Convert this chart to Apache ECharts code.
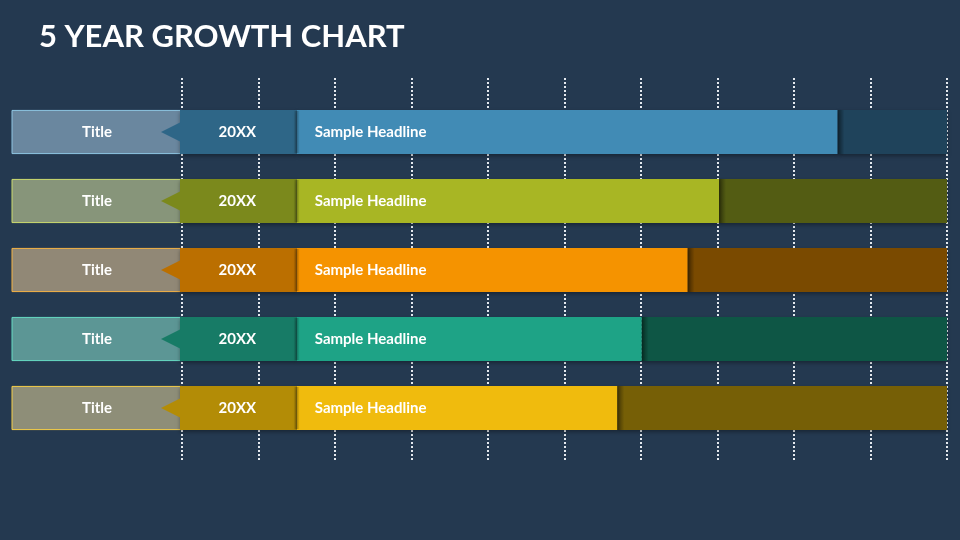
<!DOCTYPE html>
<html>
<head>
<meta charset="utf-8">
<title>5 Year Growth Chart</title>
<script src="https://cdn.jsdelivr.net/npm/echarts@6.0.0/dist/echarts.min.js"></script>
<style>
html, body { margin: 0; padding: 0; background: #243950; }
#main { width: 960px; height: 540px; }
</style>
</head>
<body>
<div id="main"></div>
<script>
// data
var rowTitles = ['Title', 'Title', 'Title', 'Title', 'Title'];
var years = ['20XX', '20XX', '20XX', '20XX', '20XX'];
var headlines = ['Sample Headline', 'Sample Headline', 'Sample Headline', 'Sample Headline', 'Sample Headline'];
var yearEnd = [15, 15, 15, 15, 15];     // year block runs 0 -> 15
var growth = [85.7, 70.2, 66.1, 60.1, 56.9];   // bright bar ends here (scale 0-100)

// colours per row: title box, its border, year block, bright bar, remainder
var palette = [
    { title: '#6a879f', edge: '#8fc6e3', year: '#2e6687', main: '#418bb5', rest: '#1f435b' },
    { title: '#87957a', edge: '#cddc6e', year: '#7b891c', main: '#a8b624', rest: '#535c13' },
    { title: '#918876', edge: '#f6b445', year: '#bb6f00', main: '#f59300', rest: '#7a4a00' },
    { title: '#5c9695', edge: '#66dcc4', year: '#177b66', main: '#1ea386', rest: '#0e5645' },
    { title: '#8e8e78', edge: '#f6cf48', year: '#b38c06', main: '#f0bb0d', rest: '#765f06' }
];

var rows = growth.map(function (v, i) { return [i, yearEnd[i], v]; });
var labelFont = 'bold 15px Lato';

function renderRow(params, api) {
    var i = params.dataIndex;
    var c = palette[i];
    var cy = api.coord([0, api.value(0)])[1];
    var h = api.size([0, 1])[1] * 0.64;
    var top = cy - h / 2;
    var x0 = api.coord([0, i])[0];
    var xy = api.coord([api.value(1), i])[0];
    var xv = api.coord([api.value(2), i])[0];
    var xm = api.coord([100, i])[0];
    var barShadow = { shadowBlur: 4, shadowOffsetY: 2, shadowColor: 'rgba(0,0,0,0.35)' };

    return {
        type: 'group',
        children: [
            { type: 'rect', shape: { x: x0 - 170, y: top + 0.5, width: 170, height: h - 1 },
              style: { fill: c.title, stroke: c.edge, lineWidth: 1 } },
            { type: 'rect', shape: { x: x0 - 2, y: top, width: xy - x0 + 2, height: h },
              style: Object.assign({ fill: c.year }, barShadow) },
            { type: 'polygon', shape: { points: [[x0 - 21, cy], [x0 - 1, cy - 10], [x0 - 1, cy + 10]] },
              style: { fill: c.year } },
            { type: 'rect', shape: { x: xv, y: top, width: xm - xv, height: h },
              style: Object.assign({ fill: c.rest }, barShadow) },
            { type: 'rect', shape: { x: xy, y: top, width: xv - xy, height: h },
              style: Object.assign({ fill: c.main }, barShadow) },
            { type: 'rect', shape: { x: xy - 3, y: top + 1, width: 6, height: h - 2 },
              style: { fill: new echarts.graphic.LinearGradient(0, 0, 1, 0, [
                  { offset: 0, color: 'rgba(0,0,0,0)' },
                  { offset: 0.5, color: 'rgba(0,0,0,0.3)' },
                  { offset: 1, color: 'rgba(0,0,0,0)' }]) } },
            { type: 'rect', shape: { x: xv, y: top, width: 7, height: h },
              style: { fill: new echarts.graphic.LinearGradient(0, 0, 1, 0, [
                  { offset: 0, color: 'rgba(0,0,0,0.45)' },
                  { offset: 1, color: 'rgba(0,0,0,0)' }]) } },
            { type: 'text', style: { x: x0 - 85, y: cy, text: rowTitles[i], align: 'center',
              verticalAlign: 'middle', fill: '#fff', font: labelFont } },
            { type: 'text', style: { x: (x0 + xy) / 2 - 2, y: cy, text: years[i], align: 'center',
              verticalAlign: 'middle', fill: '#fff', font: labelFont } },
            { type: 'text', style: { x: xy + 18, y: cy, text: headlines[i], align: 'left',
              verticalAlign: 'middle', fill: '#fff', font: labelFont } }
        ]
    };
}

var myChart = echarts.init(document.getElementById('main'));
var option = {
    backgroundColor: '#243950',
    animation: false,
    title: {
        text: '5 YEAR GROWTH CHART',
        left: 34,
        top: 16,
        textStyle: { color: '#ffffff', fontSize: 31, fontWeight: 'bold', fontFamily: 'Lato' }
    },
    grid: [
        { left: 182, right: 13, top: 78, bottom: 78 },      // dashed guide lines
        { left: 182, right: 13, top: 97.5, bottom: 97.5 }   // the bars
    ],
    xAxis: [{
        gridIndex: 0, type: 'value', min: 0, max: 100, interval: 10,
        axisLine: { show: false }, axisTick: { show: false }, axisLabel: { show: false },
        splitLine: { show: true, lineStyle: { color: '#e4e9ef', width: 2, type: [2, 2] } }
    }, {
        gridIndex: 1, type: 'value', min: 0, max: 100, show: false, splitLine: { show: false }
    }],
    yAxis: [{
        gridIndex: 0, type: 'value', show: false, splitLine: { show: false }
    }, {
        gridIndex: 1, type: 'category', data: rowTitles, inverse: true, show: false
    }],
    series: [{
        type: 'custom',
        xAxisIndex: 1,
        yAxisIndex: 1,
        clip: false,
        renderItem: renderRow,
        encode: { x: [1, 2], y: 0 },
        data: rows
    }]
};
myChart.setOption(option);

window.onresize = function () {
    myChart.resize();
};
</script>
</body>
</html>
